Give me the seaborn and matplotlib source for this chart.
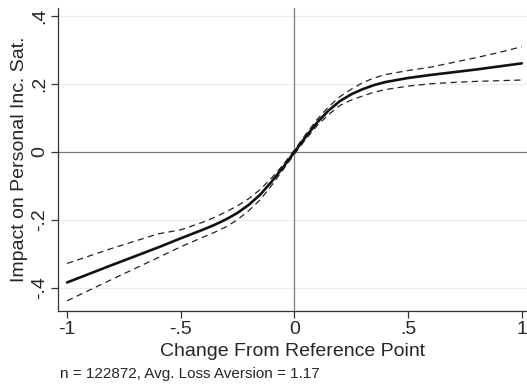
import numpy as np
import pandas as pd
import seaborn as sns
import matplotlib
matplotlib.use('Agg')
import matplotlib.pyplot as plt

sns.set_style('white')
plt.rcParams['font.family'] = ['Liberation Sans', 'DejaVu Sans']

# change from reference point
x = [-1, -0.8, -0.6, -0.5, -0.4, -0.35, -0.3, -0.25, -0.2, -0.15, -0.1, -0.05, 0, 0.05,
     0.1, 0.15, 0.2, 0.25, 0.3, 0.35, 0.4, 0.5, 0.6, 0.7, 0.8, 0.9, 1]
# estimated impact and its confidence band
est = [-0.384, -0.332, -0.281, -0.254, -0.228, -0.214, -0.198, -0.179, -0.155, -0.125, -0.087, -0.045, 0.0, 0.045,
       0.087, 0.122, 0.150, 0.170, 0.185, 0.197, 0.206, 0.218, 0.227, 0.235, 0.243, 0.252, 0.261]
upper = [-0.328, -0.283, -0.241, -0.229, -0.206, -0.192, -0.176, -0.158, -0.137, -0.110, -0.076, -0.038, 0.006, 0.052,
         0.096, 0.133, 0.163, 0.185, 0.204, 0.218, 0.228, 0.240, 0.250, 0.264, 0.278, 0.293, 0.310]
lower = [-0.438, -0.374, -0.311, -0.279, -0.250, -0.236, -0.220, -0.199, -0.172, -0.140, -0.098, -0.052, -0.006, 0.038,
         0.078, 0.110, 0.137, 0.153, 0.165, 0.176, 0.184, 0.194, 0.201, 0.205, 0.208, 0.210, 0.212]

xticks = [-1, -0.5, 0, 0.5, 1]
xticklabels = ['-1', '-.5', '0', '.5', '1']
yticks = [-0.4, -0.2, 0, 0.2, 0.4]
yticklabels = ['-.4', '-.2', '0', '.2', '.4']

df = pd.DataFrame({'x': x, 'est': est, 'upper': upper, 'lower': lower})

fig = plt.figure(figsize=(5.27, 3.87), dpi=100)
ax = fig.add_axes([58/527, 1 - 311/387, 1 - 58/527, (311 - 8)/387])

for v in [-0.4, -0.2, 0.2, 0.4]:
    ax.axhline(v, color='#e6eff1', lw=0.9, zorder=0)
ax.axhline(0, color='#7a7a7a', lw=0.9, zorder=1)
ax.axvline(0, color='#7a7a7a', lw=0.9, zorder=1)

sns.lineplot(data=df, x='x', y='upper', ax=ax, color='#222222', lw=0.9, zorder=3)
ax.lines[-1].set_dashes([5, 3.5])
sns.lineplot(data=df, x='x', y='lower', ax=ax, color='#222222', lw=0.9, zorder=3)
ax.lines[-1].set_dashes([5, 3.5])
sns.lineplot(data=df, x='x', y='est', ax=ax, color='#111111', lw=1.9, zorder=4)

ax.set_xlim(-1.040, 1.023)
ax.set_ylim(-0.468, 0.424)
ax.set_xticks(xticks)
ax.set_xticklabels(xticklabels, fontsize=14)
ax.set_yticks(yticks)
ax.set_yticklabels(yticklabels, fontsize=14, rotation=90, va='center')
ax.tick_params(direction='out', length=5, width=0.9, color='#333333', pad=2, left=True, bottom=True)

for s in ['top', 'right']:
    ax.spines[s].set_visible(False)
for s in ['left', 'bottom']:
    ax.spines[s].set_color('#333333')
    ax.spines[s].set_linewidth(0.9)

ax.set_xlabel('Change From Reference Point', fontsize=14, labelpad=4)
ax.set_ylabel('Impact on Personal Inc. Sat.', fontsize=14, labelpad=2)
fig.text(60/527, 1 - 374/387, 'n = 122872, Avg. Loss Aversion = 1.17', fontsize=11,
         ha='left', va='center')

fig.savefig('out.png', dpi=100)
